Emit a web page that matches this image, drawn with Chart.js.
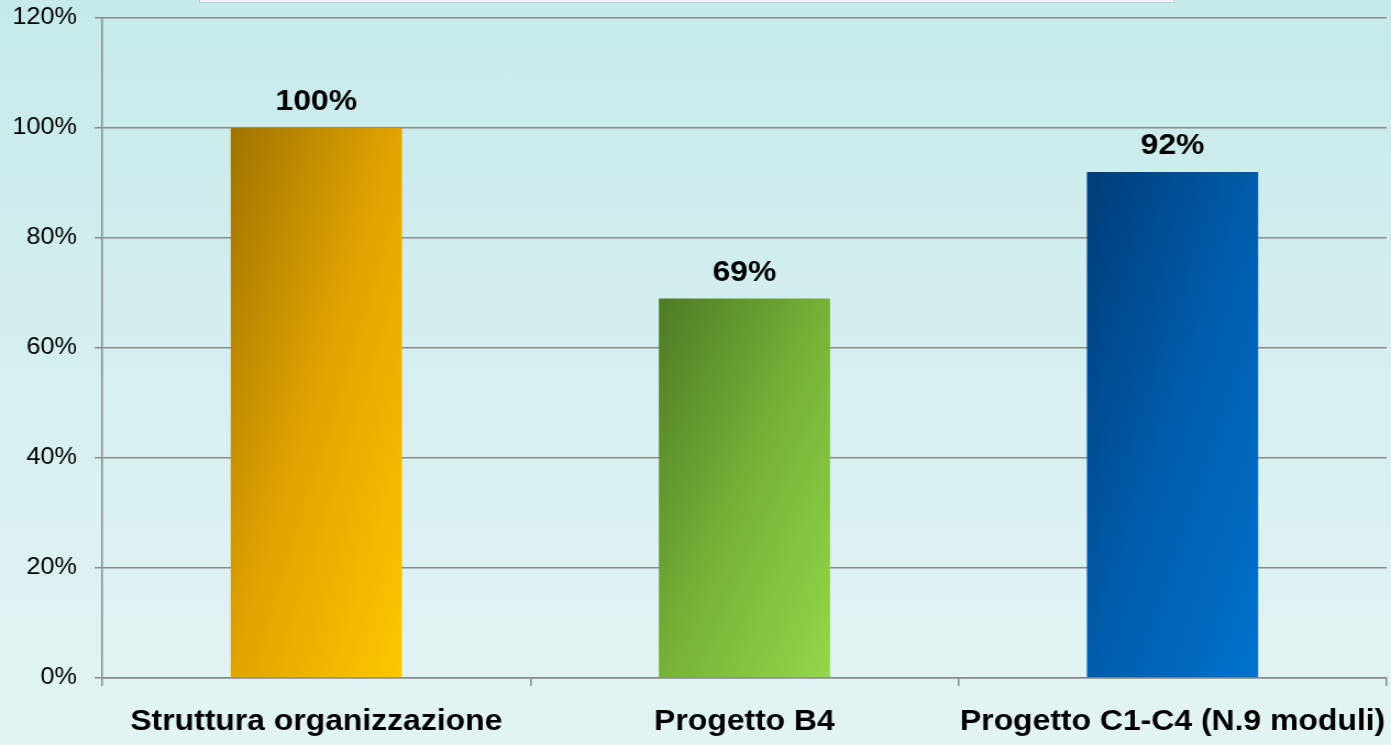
<!DOCTYPE html>
<html>
<head>
<meta charset="utf-8">
<script src="https://cdn.jsdelivr.net/npm/chart.js@4"></script>
<style>
    html, body { margin: 0; padding: 0; }
    body {
        width: 1391px; height: 745px; overflow: hidden; position: relative;
        background: linear-gradient(to bottom, #c6eaea 0%, #d6eff0 50%, #e2f4f4 100%);
    }
    /* cut-off text box at the very top */
    .topbox {
        position: absolute; left: 199px; top: -12px; width: 974px; height: 13px;
        background: #f5f3fa; border: 1px solid #a9d4da;
    }
    #c { position: absolute; left: 0; top: 0; }
</style>
</head>
<body>
<div class="topbox"></div>
<!-- drawn at 1265 wide and stretched to 1391, like the source slide -->
<canvas id="c" width="1265" height="745" style="width:1391px;height:745px"></canvas>
<script>
// ---- data ----
const categories = ['Struttura organizzazione', 'Progetto B4', 'Progetto C1-C4 (N.9 moduli)'];
const values = [100, 69, 92];
const yTicks = [0, 20, 40, 60, 80, 100, 120];

// gradient stops per bar: top-left -> bottom-right
const barStops = [
    ['#a07400', '#e2a400', '#fcc800'],
    ['#4e7b25', '#76b237', '#92d84a'],
    ['#003d78', '#005cab', '#0073cd']
];

const FONT = "'Liberation Sans', Arial, sans-serif";
const GRID = '#8a8a8a';

function barGradient(context) {
    const chart = context.chart;
    const i = context.dataIndex;
    const stops = barStops[i % barStops.length];
    if (!chart.chartArea || !chart.scales.x) return stops[1];
    const xs = chart.scales.x, ys = chart.scales.y;
    const w = (xs.width / categories.length) * 0.4;
    const cx = xs.getPixelForValue(i);
    const left = cx - w / 2;
    const top = ys.getPixelForValue(values[i]);
    const h = ys.getPixelForValue(0) - top;
    // diagonal so that t = 0.5*(x/w) + 0.5*(y/h)
    const k = 2 / (1 / (w * w) + 1 / (h * h));
    const g = chart.ctx.createLinearGradient(left, top, left + k / w, top + k / h);
    g.addColorStop(0, stops[0]);
    g.addColorStop(0.5, stops[1]);
    g.addColorStop(1, stops[2]);
    return g;
}

const valueLabels = {
    id: 'valueLabels',
    afterDatasetsDraw(chart) {
        const ctx = chart.ctx;
        const meta = chart.getDatasetMeta(0);
        ctx.save();
        ctx.font = `bold 29px ${FONT}`;
        ctx.fillStyle = '#000';
        ctx.textAlign = 'center';
        ctx.textBaseline = 'alphabetic';
        meta.data.forEach((bar, i) => {
            ctx.fillText(values[i] + '%', bar.x, bar.y - 18);
        });
        ctx.restore();
    }
};

new Chart(document.getElementById('c'), {
    type: 'bar',
    data: {
        labels: categories,
        datasets: [{
            data: values,
            backgroundColor: barGradient,
            borderWidth: 0,
            barPercentage: 0.4,
            categoryPercentage: 1
        }]
    },
    options: {
        responsive: false,
        devicePixelRatio: 1,
        animation: false,
        layout: { padding: { left: 0, right: 4, top: 18, bottom: 0 } },
        plugins: {
            legend: { display: false },
            tooltip: { enabled: false }
        },
        scales: {
            x: {
                offset: true,
                grid: {
                    offset: true,
                    drawOnChartArea: false,
                    drawTicks: true,
                    tickLength: 8,
                    color: GRID,
                    lineWidth: 1.5
                },
                border: { color: GRID, width: 1.5 },
                ticks: {
                    color: '#000',
                    font: { family: FONT, size: 29, weight: 'bold' },
                    padding: 19,
                    maxRotation: 0,
                    autoSkip: false
                },
                afterFit: (s) => { s.height = 67; s.paddingLeft = 0; s.paddingRight = 0; }
            },
            y: {
                min: yTicks[0],
                max: yTicks[yTicks.length - 1],
                afterBuildTicks: (s) => { s.ticks = yTicks.map(v => ({ value: v })); },
                grid: { color: GRID, lineWidth: 1.5, tickLength: 7 },
                border: { color: GRID, width: 1.5 },
                ticks: {
                    color: '#000',
                    font: { family: FONT, size: 23 },
                    padding: 16,
                    callback: (v) => v + '%'
                },
                afterFit: (s) => { s.width = 93; s.paddingTop = 0; s.paddingBottom = 0; }
            }
        }
    },
    plugins: [valueLabels]
});
</script>
</body>
</html>
